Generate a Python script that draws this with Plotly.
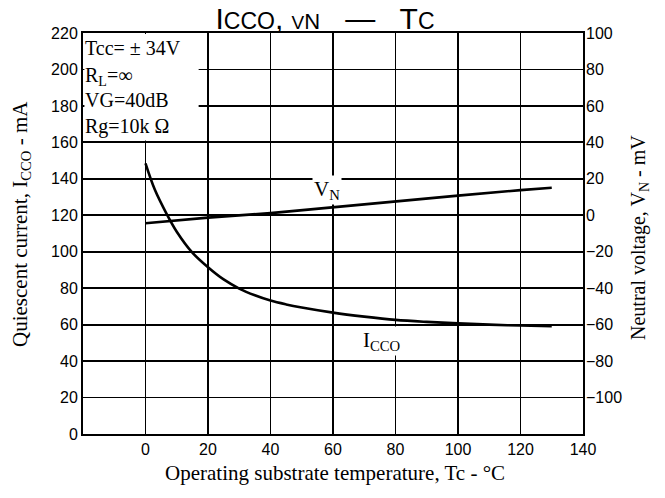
import plotly.graph_objects as go

# ---- data ----
temp_icco = [0, 3, 7, 10, 15, 20, 25, 30, 35, 40, 45, 50, 60, 70, 80, 90, 100, 110, 120, 130]
icco_ma = [148.5, 134, 120, 111, 99.5, 91.5, 84.8, 79.8, 76.1, 73.2, 71.1, 69.4, 66.6, 64.4, 62.6, 61.5, 60.7, 60.0, 59.5, 59.2]

temp_vn = [0, 20, 40, 60, 80, 100, 120, 130]
vn_mv = [-4.4, -1.3, 1.2, 4.5, 7.6, 10.8, 13.8, 15.1]

x_ticks = [0, 20, 40, 60, 80, 100, 120, 140]
left_ticks = [0, 20, 40, 60, 80, 100, 120, 140, 160, 180, 200, 220]
right_ticks = [-100, -80, -60, -40, -20, 0, 20, 40, 60, 80, 100]

conditions = ["Tcc= ± 34V", "R<sub>L</sub>=∞", "VG=40dB", "Rg=10k Ω"]

SERIF = "Liberation Serif, Times New Roman, serif"
SANS = "Liberation Sans, Arial, sans-serif"

W, H = 665, 498
PL, PR, PT, PB = 83, 583, 33, 434  # plot area in window pixels

fig = go.Figure()
fig.add_trace(go.Scatter(x=temp_icco, y=icco_ma, mode="lines",
                         line=dict(color="black", width=2.6, shape="spline", smoothing=1.0),
                         hoverinfo="skip"))
fig.add_trace(go.Scatter(x=temp_vn, y=vn_mv, mode="lines", yaxis="y2",
                         line=dict(color="black", width=2.6),
                         hoverinfo="skip"))

tickfont = dict(family=SANS, size=16, color="black")
axis_common = dict(showgrid=True, gridcolor="black", gridwidth=1.8,
                   showline=True, linecolor="black", linewidth=2, mirror=True,
                   zeroline=False, ticks="", ticklen=0, tickfont=tickfont)

fig.update_layout(
    width=W, height=H,
    margin=dict(l=PL, r=W - PR, t=PT, b=H - PB),
    paper_bgcolor="white", plot_bgcolor="white",
    showlegend=False,
    hovermode=False,
    title=dict(
        text="I<span style='font-size:23px'>CCO</span>, <span style='font-size:19px'>V</span><span style='font-size:22px'>N</span>   —   T<span style='font-size:23px'>C</span>",
        font=dict(family=SANS, size=30, color="black"),
        x=325 / W, xref="container", xanchor="center",
        y=1 - 18 / H, yref="container", yanchor="middle"),
    xaxis=dict(range=[-20, 140], tickvals=x_ticks, ticklabelstandoff=0, **axis_common),
    yaxis=dict(range=[0, 220], tickvals=left_ticks, ticklabelstandoff=0, **axis_common),
    yaxis2=dict(range=[-120, 100], tickvals=right_ticks, overlaying="y", side="right",
                showgrid=False, zeroline=False, showline=False, ticks="", ticklen=0,
                ticklabelstandoff=2, tickfont=tickfont),
)

# white box holding the test conditions
fig.add_shape(type="rect", xref="x", yref="y", x0=-19.55, x1=17, y0=161, y1=219.5,
              fillcolor="white", line=dict(width=0), layer="above")

cond_y = [212, 196, 183, 168.5]
for txt, yy in zip(conditions, cond_y):
    fig.add_annotation(x=-20, y=yy, xref="x", yref="y", text=txt, showarrow=False,
                       xanchor="left", yanchor="middle", xshift=0,
                       font=dict(family=SERIF, size=20, color="black"))

# curve labels
fig.add_annotation(x=58, y=134, xref="x", yref="y", text="V<sub>N</sub>", showarrow=False,
                   bgcolor="white", font=dict(family=SERIF, size=21, color="black"))
fig.add_annotation(x=75.5, y=51, xref="x", yref="y", text="I<sub>CCO</sub>", showarrow=False,
                   bgcolor="white", font=dict(family=SERIF, size=21, color="black"))

pw, ph = PR - PL, PB - PT
# axis titles
fig.add_annotation(x=(21 - PL) / pw, y=(PB - 224) / ph, xref="paper", yref="paper",
                   text="Quiescent current, I<sub>CCO</sub> - mA", textangle=-90, showarrow=False,
                   xanchor="center", yanchor="middle",
                   font=dict(family=SERIF, size=21, color="black"))
fig.add_annotation(x=(639 - PL) / pw, y=(PB - 238) / ph, xref="paper", yref="paper",
                   text="Neutral voltage, V<sub>N</sub> - mV", textangle=-90, showarrow=False,
                   xanchor="center", yanchor="middle",
                   font=dict(family=SERIF, size=20, color="black"))
fig.add_annotation(x=(335 - PL) / pw, y=(PB - 473) / ph, xref="paper", yref="paper",
                   text="Operating substrate temperature, Tc - °C", showarrow=False,
                   xanchor="center", yanchor="middle",
                   font=dict(family=SERIF, size=21, color="black"))

# remove the browser's default 8px body margin so the figure fills the window exactly
fig.write_html("out.html",
               config={"displayModeBar": False, "staticPlot": True},
               post_script="document.body.style.margin='0';document.body.style.overflow='hidden';")
